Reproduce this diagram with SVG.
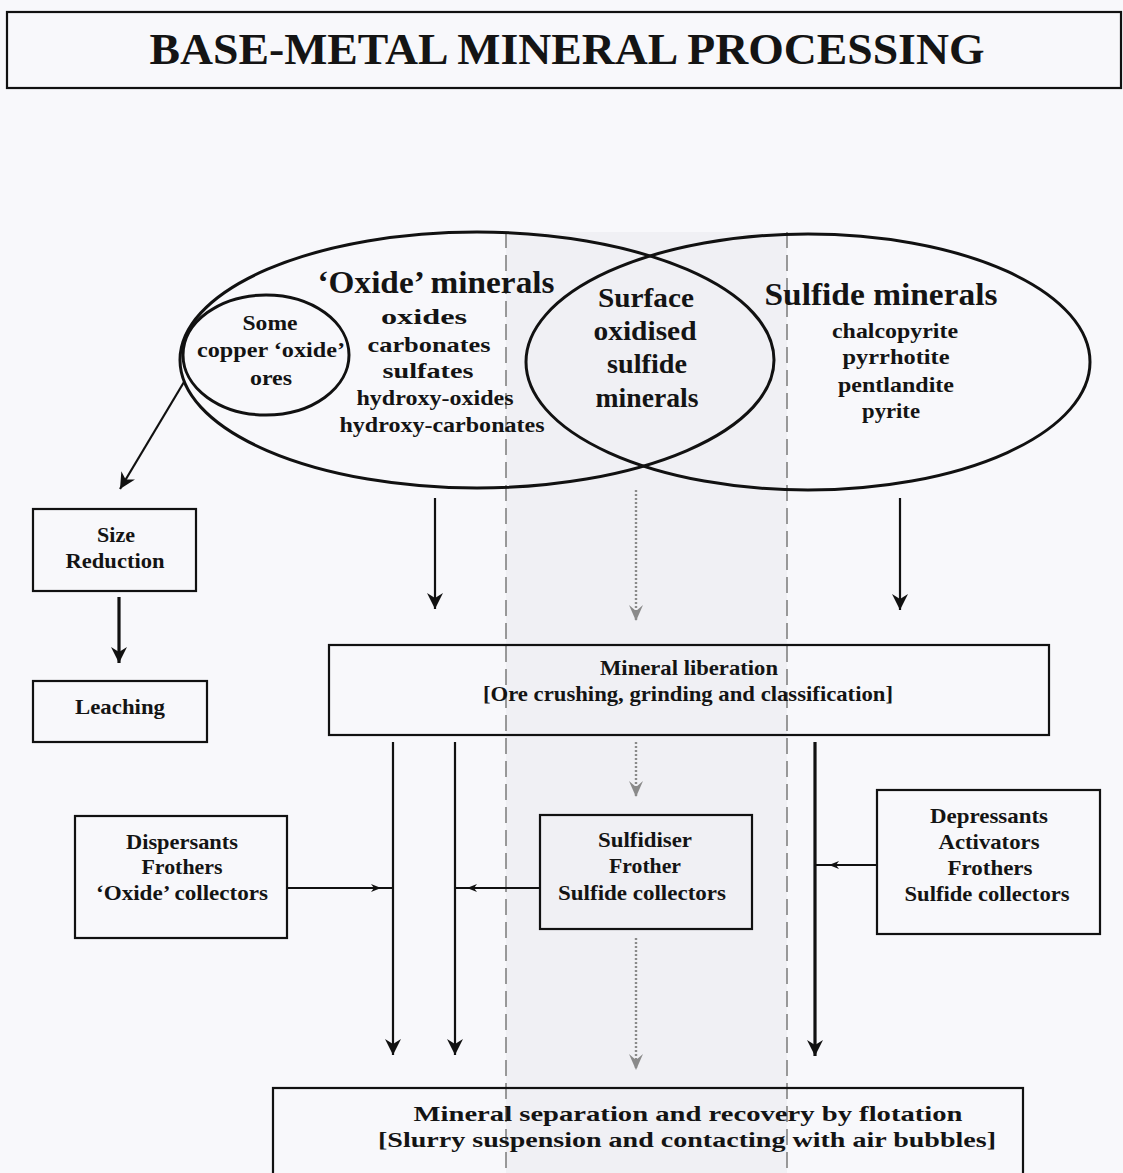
<svg xmlns="http://www.w3.org/2000/svg" width="1123" height="1173" viewBox="0 0 1123 1173">
<style>
text{font-family:"Liberation Serif","Times New Roman",serif;font-weight:bold;fill:#141414;text-anchor:middle}
.box{fill:none;stroke:#111;stroke-width:2.2}
.ell{fill:none;stroke:#111;stroke-width:3}
.ln{fill:none;stroke:#111;stroke-width:2.2}
.thick{fill:none;stroke:#111;stroke-width:3.2}
.dot{fill:none;stroke:#8a8a8a;stroke-width:2.4;stroke-dasharray:2 2}
.dash{fill:none;stroke:#7a7a7a;stroke-width:1.5;stroke-dasharray:16 7}
.s17{font-size:21px}.s18{font-size:22px}.s19{font-size:22px}.s25{font-size:27px}.s30{font-size:32px}.s16{font-size:21px}
</style>
<defs>
<marker id="ah" viewBox="0 0 16 16" refX="16" refY="8" markerWidth="16" markerHeight="16" markerUnits="userSpaceOnUse" orient="auto">
<path d="M0,0 L16,8 L0,16 L5,8 z" fill="#111"/>
</marker>
<marker id="ahg" viewBox="0 0 16 16" refX="16" refY="8" markerWidth="16" markerHeight="16" markerUnits="userSpaceOnUse" orient="auto">
<path d="M0,1 L16,8 L0,15 L6,8 z" fill="#8a8a8a"/>
</marker>
<marker id="ahs" viewBox="0 0 10 8" refX="5" refY="4" markerWidth="10" markerHeight="8" markerUnits="userSpaceOnUse" orient="auto">
<path d="M0,0 L10,4 L0,8 L3,4 z" fill="#111"/>
</marker>
</defs>
<rect width="1123" height="1173" fill="#f8f8fb"/>
<rect x="506" y="232" width="281" height="941" fill="#f0f0f4"/>
<g id="guides">
<line class="dash" x1="506" y1="232" x2="506" y2="1173"/>
<line class="dash" x1="787" y1="232" x2="787" y2="1173"/>
</g>

<g id="title">
<rect class="box" x="7" y="12" width="1114" height="76"/>
<text x="567" y="64" font-size="44" textLength="835" lengthAdjust="spacingAndGlyphs">BASE-METAL MINERAL PROCESSING</text>
</g>

<g id="oxide-minerals">
<ellipse class="ell" cx="477" cy="360" rx="297" ry="128"/>
<text class="s30" x="436" y="293" textLength="237" lengthAdjust="spacingAndGlyphs">‘Oxide’ minerals</text>
<text class="s19" x="424" y="324" textLength="86" lengthAdjust="spacingAndGlyphs">oxides</text>
<text class="s19" x="429" y="352" textLength="123" lengthAdjust="spacingAndGlyphs">carbonates</text>
<text class="s19" x="428" y="378" textLength="91" lengthAdjust="spacingAndGlyphs">sulfates</text>
<text class="s19" x="435" y="405" textLength="157" lengthAdjust="spacingAndGlyphs">hydroxy-oxides</text>
<text class="s19" x="442" y="432" textLength="205" lengthAdjust="spacingAndGlyphs">hydroxy-carbonates</text>
</g>

<g id="copper-oxide-ores">
<ellipse class="ell" cx="266" cy="355" rx="83" ry="60"/>
<text class="s18" x="270" y="330" textLength="55" lengthAdjust="spacingAndGlyphs">Some</text>
<text class="s18" x="271" y="357" textLength="148" lengthAdjust="spacingAndGlyphs">copper ‘oxide’</text>
<text class="s18" x="271" y="385" textLength="42" lengthAdjust="spacingAndGlyphs">ores</text>
</g>

<g id="sulfide-minerals">
<ellipse class="ell" cx="808" cy="362" rx="282" ry="128"/>
<text class="s30" x="881" y="305" textLength="233" lengthAdjust="spacingAndGlyphs">Sulfide minerals</text>
<text class="s18" x="895" y="338" textLength="126" lengthAdjust="spacingAndGlyphs">chalcopyrite</text>
<text class="s18" x="896" y="364" textLength="107" lengthAdjust="spacingAndGlyphs">pyrrhotite</text>
<text class="s18" x="896" y="392" textLength="116" lengthAdjust="spacingAndGlyphs">pentlandite</text>
<text class="s18" x="891" y="418" textLength="58" lengthAdjust="spacingAndGlyphs">pyrite</text>
</g>

<g id="surface-oxidised">
<text class="s25" x="646" y="307" textLength="96" lengthAdjust="spacingAndGlyphs">Surface</text>
<text class="s25" x="645" y="340" textLength="103" lengthAdjust="spacingAndGlyphs">oxidised</text>
<text class="s25" x="647" y="373" textLength="80" lengthAdjust="spacingAndGlyphs">sulfide</text>
<text class="s25" x="647" y="407" textLength="103" lengthAdjust="spacingAndGlyphs">minerals</text>
</g>

<g id="size-reduction">
<rect class="box" x="33" y="509" width="163" height="82"/>
<text class="s17" x="116" y="542" textLength="38" lengthAdjust="spacingAndGlyphs">Size</text>
<text class="s17" x="115" y="568" textLength="99" lengthAdjust="spacingAndGlyphs">Reduction</text>
</g>

<g id="leaching">
<rect class="box" x="33" y="681" width="174" height="61"/>
<text class="s17" x="120" y="714" textLength="90" lengthAdjust="spacingAndGlyphs">Leaching</text>
</g>

<g id="mineral-liberation">
<rect class="box" x="329" y="645" width="720" height="90"/>
<text class="s17" x="689" y="675" textLength="178" lengthAdjust="spacingAndGlyphs">Mineral liberation</text>
<text class="s17" x="688" y="701" textLength="410" lengthAdjust="spacingAndGlyphs">[Ore crushing, grinding and classification]</text>
</g>

<g id="dispersants">
<rect class="box" x="75" y="816" width="212" height="122"/>
<text class="s17" x="182" y="849" textLength="112" lengthAdjust="spacingAndGlyphs">Dispersants</text>
<text class="s17" x="182" y="874" textLength="81" lengthAdjust="spacingAndGlyphs">Frothers</text>
<text class="s17" x="182" y="900" textLength="172" lengthAdjust="spacingAndGlyphs">‘Oxide’ collectors</text>
</g>

<g id="sulfidiser">
<rect class="box" x="540" y="815" width="212" height="114"/>
<text class="s17" x="645" y="847" textLength="94" lengthAdjust="spacingAndGlyphs">Sulfidiser</text>
<text class="s17" x="645" y="873" textLength="72" lengthAdjust="spacingAndGlyphs">Frother</text>
<text class="s17" x="642" y="900" textLength="168" lengthAdjust="spacingAndGlyphs">Sulfide collectors</text>
</g>

<g id="depressants">
<rect class="box" x="877" y="790" width="223" height="144"/>
<text class="s17" x="989" y="823" textLength="118" lengthAdjust="spacingAndGlyphs">Depressants</text>
<text class="s17" x="989" y="849" textLength="101" lengthAdjust="spacingAndGlyphs">Activators</text>
<text class="s17" x="990" y="875" textLength="85" lengthAdjust="spacingAndGlyphs">Frothers</text>
<text class="s17" x="987" y="901" textLength="165" lengthAdjust="spacingAndGlyphs">Sulfide collectors</text>
</g>

<g id="flotation">
<rect class="box" x="273" y="1088" width="750" height="100"/>
<text class="s16" x="688" y="1121" textLength="549" lengthAdjust="spacingAndGlyphs">Mineral separation and recovery by flotation</text>
<text class="s16" x="687" y="1147" textLength="618" lengthAdjust="spacingAndGlyphs">[Slurry  suspension and contacting with air bubbles]</text>
</g>

<g id="connectors">
<line class="ln" x1="184" y1="382" x2="120" y2="489" marker-end="url(#ah)"/>
<line class="thick" x1="119" y1="597" x2="119" y2="663" marker-end="url(#ah)"/>
<line class="ln" x1="435" y1="498" x2="435" y2="609" marker-end="url(#ah)"/>
<line class="dot" x1="636" y1="490" x2="636" y2="621" marker-end="url(#ahg)"/>
<line class="ln" x1="900" y1="498" x2="900" y2="610" marker-end="url(#ah)"/>
<line class="ln" x1="393" y1="742" x2="393" y2="1055" marker-end="url(#ah)"/>
<line class="ln" x1="455" y1="742" x2="455" y2="1055" marker-end="url(#ah)"/>
<line class="dot" x1="636" y1="742" x2="636" y2="797" marker-end="url(#ahg)"/>
<line class="dot" x1="636" y1="938" x2="636" y2="1070" marker-end="url(#ahg)"/>
<line class="thick" x1="815" y1="742" x2="815" y2="1056" marker-end="url(#ah)"/>
<polyline class="ln" points="287,888 376,888 393,888" marker-mid="url(#ahs)"/>
<polyline class="ln" points="540,888 472,888 456,888" marker-mid="url(#ahs)"/>
<polyline class="ln" points="877,865 834,865 816,865" marker-mid="url(#ahs)"/>
</g>
</svg>
